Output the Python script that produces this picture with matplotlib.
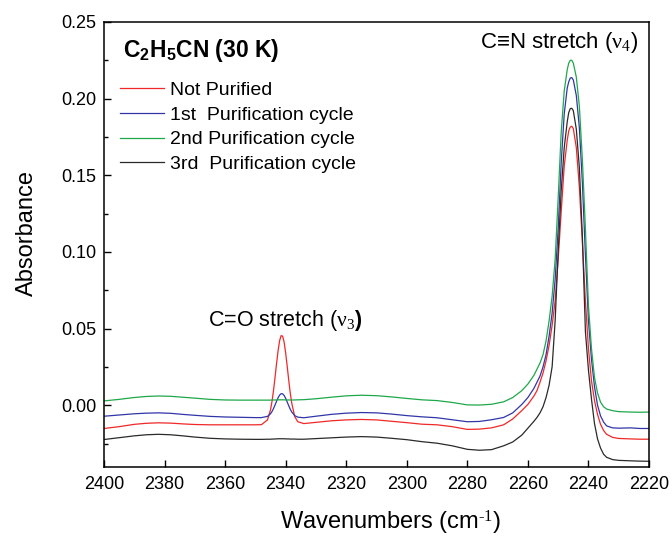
import matplotlib
matplotlib.use('Agg')
import matplotlib.pyplot as plt
from matplotlib.ticker import MultipleLocator, FormatStrFormatter

plt.rcParams['font.family'] = ['Liberation Sans', 'DejaVu Sans']
plt.rcParams['mathtext.fontset'] = 'custom'
plt.rcParams['mathtext.rm'] = 'Liberation Serif'
plt.rcParams['mathtext.it'] = 'Liberation Serif'
plt.rcParams['mathtext.bf'] = 'Liberation Sans:bold'
plt.rcParams['mathtext.sf'] = 'Liberation Sans'

# ---- data ----
wavenumber = [2400, 2395, 2390, 2386, 2382, 2378, 2374, 2370, 2365, 2360,
              2355, 2350, 2348, 2346, 2345, 2344.5, 2344, 2343.5, 2343, 2342.5,
              2342, 2341.5, 2341, 2340.5, 2340, 2339.5, 2339, 2338.5, 2338, 2337,
              2336, 2334, 2330, 2325, 2320, 2315, 2310, 2305, 2300, 2295,
              2290, 2285, 2280, 2276, 2272, 2268, 2265, 2262, 2260, 2258,
              2257, 2256, 2255, 2254, 2253, 2252, 2251, 2250, 2249, 2248,
              2247, 2246.5, 2246, 2245.5, 2245, 2244, 2243, 2242, 2241, 2240,
              2239, 2238, 2237, 2236, 2235, 2234, 2232, 2230, 2226, 2223,
              2220]

not_purified = [-0.0152, -0.0140, -0.0125, -0.0118, -0.0115, -0.0117, -0.0122, -0.0126, -0.0128, -0.0128,
                -0.0128, -0.0128, -0.0127, -0.0096, -0.0030, 0.0026, 0.0098, 0.0183, 0.0273, 0.0356,
                0.0421, 0.0454, 0.0450, 0.0410, 0.0341, 0.0255, 0.0165, 0.0082, 0.0014, -0.0075,
                -0.0108, -0.0120, -0.0112, -0.0102, -0.0096, -0.0093, -0.0096, -0.0105, -0.0114, -0.0124,
                -0.0128, -0.0140, -0.0158, -0.0156, -0.0148, -0.0128, -0.0090, -0.0035, 0.0005, 0.0060,
                0.0095, 0.0150, 0.0210, 0.0290, 0.0390, 0.0520, 0.0680, 0.0950, 0.1260, 0.1560,
                0.1730, 0.1790, 0.1815, 0.1820, 0.1805, 0.1680, 0.1420, 0.1060, 0.0680, 0.0370,
                0.0160, 0.0030, -0.0060, -0.0125, -0.0165, -0.0190, -0.0210, -0.0217, -0.0220, -0.0222,
                -0.0222]

cycle1 = [-0.0072, -0.0064, -0.0056, -0.0052, -0.0050, -0.0053, -0.0060, -0.0066, -0.0073, -0.0077,
          -0.0079, -0.0081, -0.0081, -0.0073, -0.0056, -0.0041, -0.0021, 0.0002, 0.0026, 0.0049,
          0.0066, 0.0075, 0.0074, 0.0063, 0.0045, 0.0021, -0.0003, -0.0026, -0.0044, -0.0068,
          -0.0078, -0.0082, -0.0072, -0.0060, -0.0052, -0.0048, -0.0050, -0.0058, -0.0068, -0.0076,
          -0.0082, -0.0095, -0.0108, -0.0106, -0.0095, -0.0080, -0.0050, 0.0005, 0.0050, 0.0110,
          0.0150, 0.0190, 0.0250, 0.0330, 0.0450, 0.0600, 0.0820, 0.1150, 0.1580, 0.1900,
          0.2070, 0.2110, 0.2135, 0.2137, 0.2122, 0.2020, 0.1810, 0.1450, 0.0980, 0.0550,
          0.0300, 0.0120, 0.0000, -0.0070, -0.0110, -0.0135, -0.0148, -0.0150, -0.0148, -0.0152,
          -0.0152]

cycle2 = [0.0028, 0.0038, 0.0050, 0.0057, 0.0060, 0.0058, 0.0052, 0.0046, 0.0038, 0.0034,
          0.0033, 0.0033, 0.0033, 0.0033, 0.0033, 0.0034, 0.0034, 0.0034, 0.0034, 0.0035,
          0.0035, 0.0035, 0.0035, 0.0035, 0.0034, 0.0034, 0.0034, 0.0034, 0.0034, 0.0034,
          0.0035, 0.0036, 0.0042, 0.0052, 0.0061, 0.0065, 0.0062, 0.0054, 0.0044, 0.0035,
          0.0030, 0.0018, 0.0002, 0.0001, 0.0006, 0.0022, 0.0050, 0.0095, 0.0138, 0.0195,
          0.0235, 0.0275, 0.0330, 0.0420, 0.0550, 0.0710, 0.0950, 0.1350, 0.1780, 0.2050,
          0.2190, 0.2232, 0.2250, 0.2250, 0.2232, 0.2140, 0.1950, 0.1600, 0.1150, 0.0650,
          0.0370, 0.0180, 0.0080, 0.0020, -0.0010, -0.0025, -0.0036, -0.0042, -0.0045, -0.0046,
          -0.0045]

cycle3 = [-0.0224, -0.0212, -0.0200, -0.0193, -0.0190, -0.0193, -0.0200, -0.0208, -0.0216, -0.0220,
          -0.0222, -0.0223, -0.0223, -0.0222, -0.0222, -0.0221, -0.0221, -0.0220, -0.0220, -0.0219,
          -0.0219, -0.0219, -0.0219, -0.0219, -0.0220, -0.0220, -0.0220, -0.0221, -0.0221, -0.0221,
          -0.0222, -0.0222, -0.0218, -0.0213, -0.0208, -0.0205, -0.0208, -0.0216, -0.0225, -0.0238,
          -0.0248, -0.0265, -0.0288, -0.0294, -0.0290, -0.0265, -0.0240, -0.0195, -0.0150, -0.0105,
          -0.0080, -0.0050, -0.0010, 0.0050, 0.0130, 0.0250, 0.0550, 0.1000, 0.1400, 0.1680,
          0.1850, 0.1910, 0.1935, 0.1937, 0.1922, 0.1800, 0.1550, 0.1100, 0.0480, 0.0230,
          0.0040, -0.0120, -0.0220, -0.0280, -0.0320, -0.0340, -0.0355, -0.0360, -0.0363, -0.0365,
          -0.0366]

labels = ["Not Purified", "1st  Purification cycle", "2nd Purification cycle", "3rd  Purification cycle"]
colors = ["#f02828", "#3036a8", "#1ea84a", "#2a2a2a"]
series = [not_purified, cycle1, cycle2, cycle3]

x_ticks = [2400, 2380, 2360, 2340, 2320, 2300, 2280, 2260, 2240, 2220]
y_ticks = [0.00, 0.05, 0.10, 0.15, 0.20, 0.25]

# ---- figure ----
fig = plt.figure(figsize=(6.72, 5.41), dpi=100)
ax = fig.add_axes([104/672, 1 - 466.5/541, 545/672, 444.5/541])

for ys, lab, c in zip(series, labels, colors):
    ax.plot(wavenumber, ys, color=c, lw=0.9, label=lab)

ax.set_xlim(2400, 2220)
ax.set_ylim(-0.04, 0.25)
ax.set_xticks(x_ticks)
ax.set_yticks(y_ticks)
ax.yaxis.set_minor_locator(MultipleLocator(0.025))
ax.yaxis.set_major_formatter(FormatStrFormatter('%.2f'))
ax.tick_params(which='both', direction='in', top=False, right=False, labelsize=13, width=1.0)
ax.tick_params(which='major', length=5)
ax.tick_params(which='minor', length=3)
ax.tick_params(axis='x', which='major', pad=6.5)
ax.tick_params(axis='y', which='major', pad=5.5)
for s in ax.spines.values():
    s.set_linewidth(1.1)

ax.set_xlabel(r'Wavenumbers (cm$^{\text{-1}}$)', fontsize=17, labelpad=12, x=0.525)
ax.set_ylabel('Absorbance', fontsize=17, labelpad=17, y=0.525)

ax.text(0.035, 0.921, r'$\mathbf{C_2H_5CN}$ (30 K)', transform=ax.transAxes,
        fontsize=16.5, fontweight='bold', ha='left', va='baseline')
ax.text(0.979, 0.9415, r'C≡N stretch ($\nu_4$)', transform=ax.transAxes,
        fontsize=16, ha='right', va='baseline')
ax.text(0.333, 0.316, r'C=O stretch ($\nu_3$$\mathbf{)}$', transform=ax.transAxes,
        fontsize=15.5, ha='center', va='baseline')

ax.legend(loc='upper left', bbox_to_anchor=(0.03, 0.866), frameon=False, fontsize=14,
          handlelength=2.27, handletextpad=0.3, labelspacing=0.36, borderpad=0, borderaxespad=0)

fig.savefig('out.png', dpi=100)
